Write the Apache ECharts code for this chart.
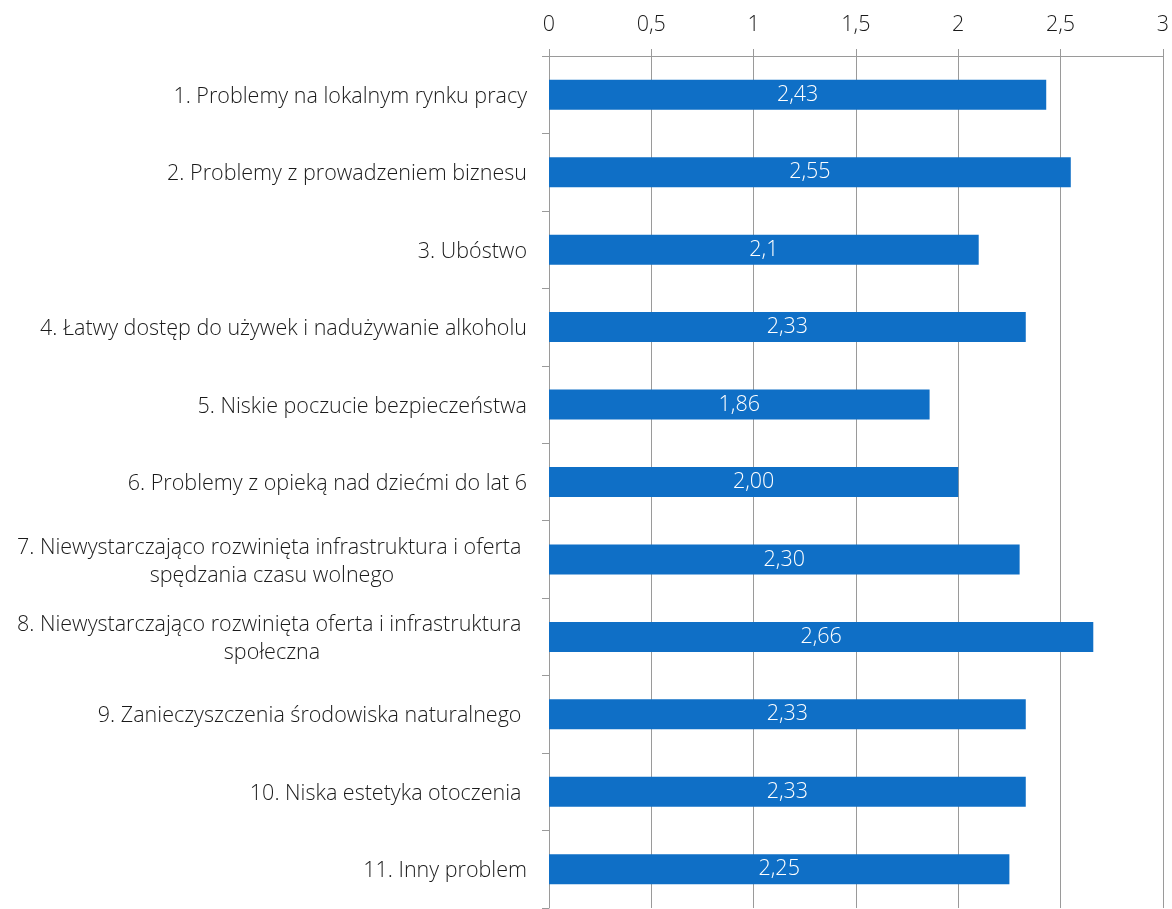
<!DOCTYPE html>
<html>
<head>
<meta charset="utf-8">
<script src="https://cdn.jsdelivr.net/npm/echarts@6/dist/echarts.min.js"></script>
<style>
  html, body { margin: 0; padding: 0; background: #fff; }
  #chart { width: 1172px; height: 909px; }
</style>
</head>
<body>
<div id="chart"></div>
<script>
const categories = [
    "1. Problemy na lokalnym rynku pracy",
    "2. Problemy z prowadzeniem biznesu",
    "3. Ubóstwo",
    "4. Łatwy dostęp do używek i nadużywanie alkoholu",
    "5. Niskie poczucie bezpieczeństwa",
    "6. Problemy z opieką nad dziećmi do lat 6",
    "7. Niewystarczająco rozwinięta infrastruktura i oferta \nspędzania czasu wolnego",
    "8. Niewystarczająco rozwinięta oferta i infrastruktura \nspołeczna",
    "9. Zanieczyszczenia środowiska naturalnego ",
    "10. Niska estetyka otoczenia ",
    "11. Inny problem"
];
const values = [2.43, 2.55, 2.1, 2.33, 1.86, 2.00, 2.30, 2.66, 2.33, 2.33, 2.25];
const valueLabels = ["2,43", "2,55", "2,1", "2,33", "1,86", "2,00", "2,30", "2,66", "2,33", "2,33", "2,25"];

const font = "'Open Sans', 'Noto Sans', sans-serif";
const fs = 21.5;
const chart = echarts.init(document.getElementById('chart'));

const option = {
    animation: false,
    grid: { left: 549, right: 9, top: 56, bottom: 1, containLabel: false },
    xAxis: {
        type: 'value',
        position: 'top',
        min: 0,
        max: 3,
        interval: 0.5,
        axisLine: { show: true, lineStyle: { color: '#9a9a9a', width: 1 } },
        axisTick: { show: true, length: 7, lineStyle: { color: '#9a9a9a' } },
        splitLine: { show: true, lineStyle: { color: '#9a9a9a', width: 1 } },
        axisLabel: {
            margin: 20,
            fontFamily: font,
            fontWeight: 300,
            fontSize: fs,
            color: '#1a1a1a',
            formatter: v => String(v).replace('.', ',')
        }
    },
    yAxis: {
        type: 'category',
        inverse: true,
        data: categories,
        axisLine: { show: true, lineStyle: { color: '#9a9a9a', width: 1 } },
        axisTick: { show: true, length: 7, lineStyle: { color: '#9a9a9a' } },
        splitLine: { show: false },
        axisLabel: {
            margin: 22,
            align: 'right',
            fontFamily: font,
            fontWeight: 300,
            fontSize: fs,
            color: '#1a1a1a',
            lineHeight: 28,
            formatter: v => v.split('\n').map(s => '{c|' + s + '}').join('\n'),
            rich: {
                c: {
                    align: 'center',
                    fontFamily: font,
                    fontWeight: 300,
                    fontSize: fs,
                    color: '#1a1a1a',
                    lineHeight: 28,
                    padding: [4, 0, 0, 0]
                }
            }
        }
    },
    series: [{
        type: 'bar',
        data: values,
        barWidth: 30,
        itemStyle: { color: '#0F6FC6' },
        label: {
            show: true,
            position: 'inside',
            color: '#ffffff',
            fontFamily: font,
            fontWeight: 300,
            fontSize: fs,
            formatter: p => valueLabels[p.dataIndex]
        }
    }]
};

chart.setOption(option);
</script>
</body>
</html>
